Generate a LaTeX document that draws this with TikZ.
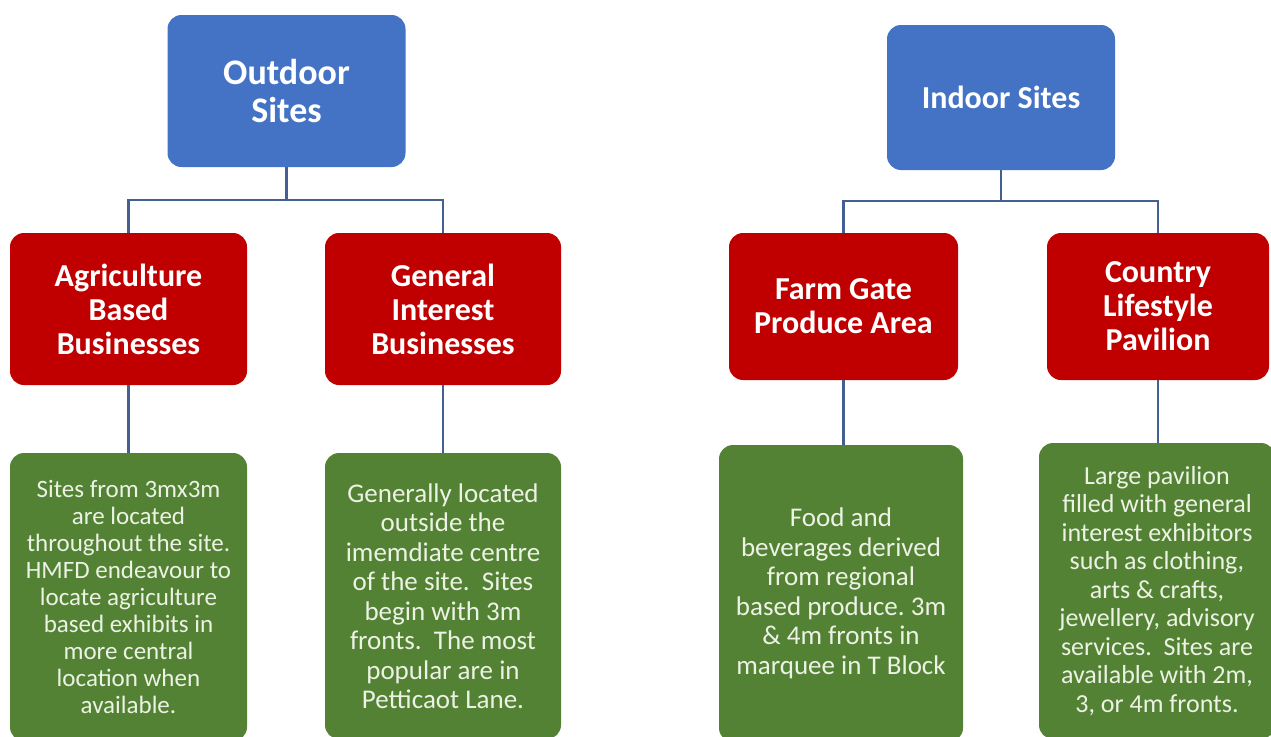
\documentclass[tikz,border=0pt]{standalone}
\usepackage{fontspec}
\setmainfont{Carlito}
\frenchspacing
\definecolor{boxblue}{RGB}{68,114,196}
\definecolor{boxred}{RGB}{192,0,0}
\definecolor{boxgreen}{RGB}{84,130,53}
\definecolor{linkblue}{RGB}{68,96,146}
\definecolor{greentext}{RGB}{236,242,228}
\tikzset{
  box/.style={rectangle, rounded corners=14pt, inner sep=0pt, align=center, draw=none},
  topbox/.style={box, fill=boxblue, text=white},
  midbox/.style={box, fill=boxred, text=white, font={\bfseries\fontsize{32}{34}\selectfont}},
  lowbox/.style={box, fill=boxgreen, text=greentext},
  link/.style={draw=linkblue, line width=2.8pt}
}
\begin{document}
\begin{tikzpicture}[x=1pt,y=-1pt]
\useasboundingbox (0,0) rectangle (1271,736);
\clip (0,0) rectangle (1271,736);
\fill[white] (0,0) rectangle (1271,736);
% top level
\node[topbox, minimum width=238pt, minimum height=152pt, font={\bfseries\fontsize{36}{38}\selectfont}] (out) at (286.5,91) {Outdoor\\Sites};
\node[topbox, minimum width=228pt, minimum height=145pt, font={\bfseries\fontsize{32}{34}\selectfont}] (ind) at (1001,97.5) {Indoor Sites};
% second level
\node[midbox, minimum width=237pt, minimum height=152pt] (agri) at (128.5,309) {Agriculture\\Based\\Businesses};
\node[midbox, minimum width=236pt, minimum height=152pt] (gen) at (443,309) {General\\Interest\\Businesses};
\node[midbox, minimum width=229pt, minimum height=147pt] (farm) at (843.5,306.5) {Farm Gate\\Produce Area};
\node[midbox, minimum width=222pt, minimum height=147pt] (ctry) at (1158,306.5) {Country\\Lifestyle\\Pavilion};
% third level
\node[lowbox, minimum width=237pt, minimum height=288pt, font={\fontsize{25}{27}\selectfont}] (g1) at (128.5,597) {Sites from 3mx3m\\are located\\throughout the site.\\HMFD endeavour to\\locate agriculture\\based exhibits in\\more central\\location when\\available.};
\node[lowbox, minimum width=236pt, minimum height=286pt, font={\fontsize{27}{29.5}\selectfont}] (g2) at (443,596) {Generally located\\outside the\\imemdiate centre\\of the site.\ \ Sites\\begin with 3m\\fronts.\ \ The most\\popular are in\\Petticaot Lane.};
\node[lowbox, minimum width=244pt, minimum height=297pt, font={\fontsize{27}{29.5}\selectfont}] (g3) at (841,593.5) {Food and\\beverages derived\\from regional\\based produce. 3m\\\& 4m fronts in\\marquee in T Block};
\node[lowbox, minimum width=236pt, minimum height=296pt, font={\fontsize{26}{28.5}\selectfont}] (g4) at (1157,591) {Large pavilion\\filled with general\\interest exhibitors\\such as clothing,\\arts \& crafts,\\jewellery, advisory\\services.\ \ Sites are\\available with 2m,\\3, or 4m fronts.};
% connectors
\coordinate (jo) at (286.5,200);
\coordinate (ji) at (1001,201);
\draw[link] (out.south) -- (jo);
\draw[link] (agri.north) |- (jo) -| (gen.north);
\draw[link] (ind.south) -- (ji);
\draw[link] (farm.north) |- (ji) -| (ctry.north);
\draw[link] (agri.south) -- (agri.south |- g1.north);
\draw[link] (gen.south) -- (gen.south |- g2.north);
\draw[link] (farm.south) -- (farm.south |- g3.north);
\draw[link] (ctry.south) -- (ctry.south |- g4.north);
\end{tikzpicture}
\end{document}
